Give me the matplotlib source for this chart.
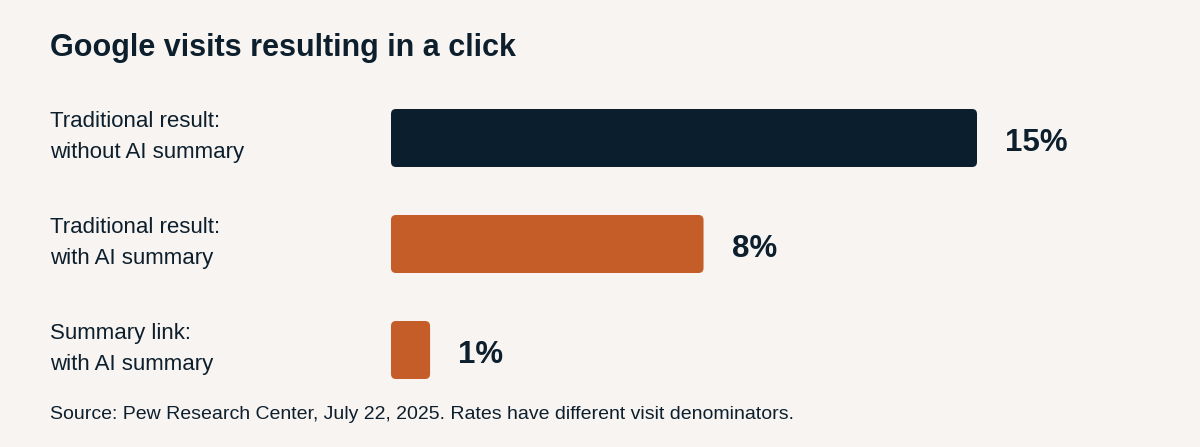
import matplotlib
matplotlib.use("Agg")
import matplotlib.pyplot as plt
from matplotlib.patches import FancyBboxPatch

categories = ["Traditional result:\nwithout AI summary",
              "Traditional result:\nwith AI summary",
              "Summary link:\nwith AI summary"]
values = [15, 8, 1]
value_labels = ["15%", "8%", "1%"]
bar_colors = ["#0a1e2d", "#c45d27", "#c45d27"]

BG = "#f7f4f1"
TXT = "#0d1f2d"
FONT = ["Liberation Sans", "DejaVu Sans"]
plt.rcParams["font.family"] = FONT

W, H = 1200, 447
PT = 72 / 100.0  # points per pixel
fig = plt.figure(figsize=(W / 100, H / 100), dpi=100, facecolor=BG)

# axes: x=0 at px 391, x=15 at px 977; bars centered at px 138, 244, 350
ax = fig.add_axes([391 / W, (H - 403) / H, 586 / W, 318 / H])
ax.set_facecolor(BG)
ax.patch.set_alpha(0)
ax.set_xlim(0, 15)
ax.set_ylim(2.5, -0.5)
ax.axis("off")

ypos = list(range(len(values)))
bars = ax.barh(ypos, values, height=58 / 106, color=bar_colors)

px_x = 586 / 15.0
px_y = 106.0
aspect = (1 / px_y) / (1 / px_x)
rad = 5 / px_x
for b in bars:
    x0, y0 = b.get_x(), b.get_y()
    w, h = b.get_width(), b.get_height()
    patch = FancyBboxPatch((x0, y0), w, h,
                           boxstyle=f"round,pad=0,rounding_size={rad}",
                           mutation_aspect=aspect,
                           facecolor=b.get_facecolor(), edgecolor="none")
    b.set_visible(False)
    ax.add_patch(patch)

for y, v, lab in zip(ypos, values, value_labels):
    ax.annotate(lab, xy=(v, y), xytext=(28 * PT, -13 * PT), textcoords="offset points",
                ha="left", va="baseline", fontsize=22.5, fontweight="bold",
                color=TXT, annotation_clip=False)

for y, cat in zip(ypos, categories):
    lines = cat.split("\n")
    offsets = [10.7, -20.3]
    for line, off in zip(lines, offsets):
        ax.annotate(line, xy=(0, y), xycoords=("figure fraction", "data"),
                    xytext=(50 / W, off * PT),
                    textcoords=("figure fraction", "offset points"),
                    ha="left", va="baseline", fontsize=16, color=TXT,
                    annotation_clip=False)

fig.text(50 / W, 1 - 56 / H, "Google visits resulting in a click",
         ha="left", va="baseline", fontsize=22, fontweight="bold", color=TXT)
fig.text(50 / W, 1 - 419 / H,
         "Source: Pew Research Center, July 22, 2025. Rates have different visit denominators.",
         ha="left", va="baseline", fontsize=14, color=TXT)

fig.savefig("out.png", dpi=100, facecolor=BG)
